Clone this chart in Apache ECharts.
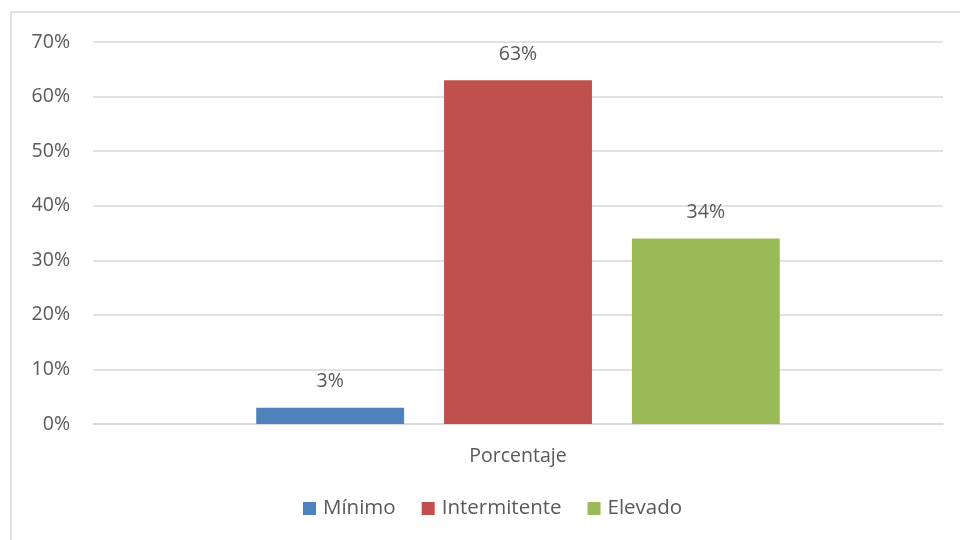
<!DOCTYPE html>
<html><head><meta charset="utf-8">
<script src="https://cdn.jsdelivr.net/npm/echarts@6/dist/echarts.min.js"></script>
<style>html,body{margin:0;padding:0;background:#fff}#c{width:960px;height:540px}</style>
</head><body><div id="c"></div>
<script>
var categories = ['Porcentaje'];
var seriesNames = ['Mínimo', 'Intermitente', 'Elevado'];
var seriesValues = [[3], [63], [34]];
var colors = ['#4F81BD', '#C0504D', '#9BBB59'];
var yTicks = [0, 10, 20, 30, 40, 50, 60, 70];

var chart = echarts.init(document.getElementById('c'));
var font = '"Open Sans", "Noto Sans", sans-serif';
var series = seriesNames.map(function (n, i) {
  return {
    name: n, type: 'bar', data: seriesValues[i],
    itemStyle: { color: colors[i] },
    barWidth: '17.4%', barGap: '27%',
    label: { show: true, position: 'top', distance: 16, formatter: '{c}%', color: '#595959', fontSize: 19.5, fontFamily: font }
  };
});
chart.setOption({
  animation: false,
  graphic: [{ type: 'rect', shape: { x: 11, y: 12, width: 1000, height: 600 }, style: { fill: 'none', stroke: '#D9D9D9', lineWidth: 1.5 }, silent: true }],
  grid: { left: 93, right: 17, top: 42, bottom: 116, containLabel: false },
  legend: {
    bottom: 16, left: 298, itemWidth: 13, itemHeight: 13, itemGap: 26, icon: 'rect',
    textStyle: { color: '#595959', fontSize: 20.5, fontFamily: font, padding: [0, 0, 0, 2] },
    data: seriesNames
  },
  xAxis: {
    type: 'category', data: categories,
    axisLine: { lineStyle: { color: '#D9D9D9', width: 1.5 } },
    axisTick: { show: false },
    axisLabel: { color: '#595959', fontSize: 19.5, fontFamily: font, margin: 22 }
  },
  yAxis: {
    type: 'value', min: yTicks[0], max: yTicks[yTicks.length - 1], interval: 10,
    axisLine: { show: false }, axisTick: { show: false },
    splitLine: { lineStyle: { color: '#D9D9D9', width: 1.5 } },
    axisLabel: { color: '#595959', fontSize: 19.5, fontFamily: font, margin: 23, formatter: '{value}%' }
  },
  series: series
});
</script></body></html>
